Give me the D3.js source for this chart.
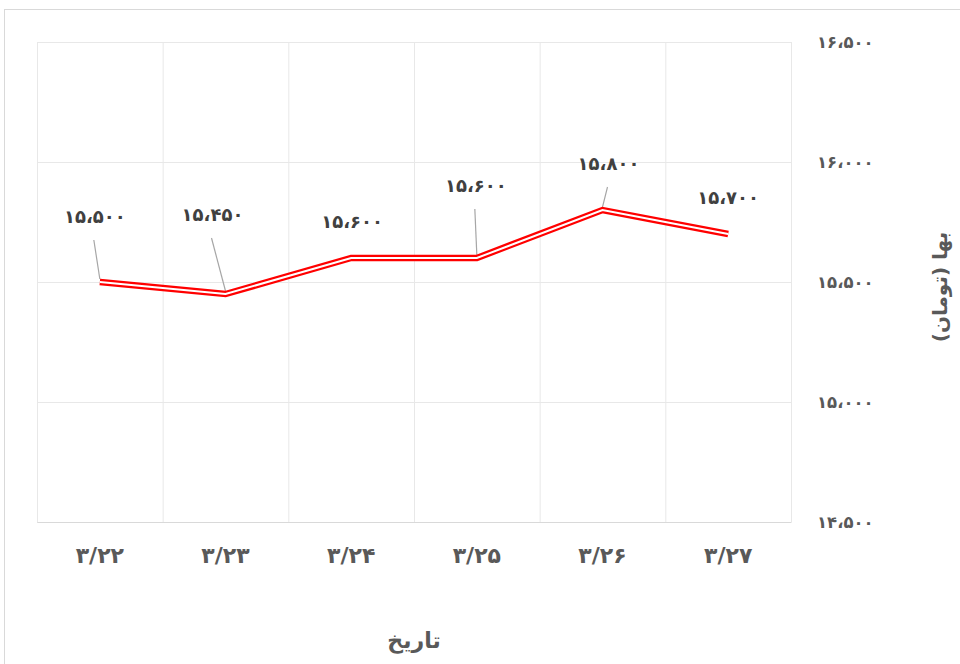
<!DOCTYPE html>
<html><head><meta charset="utf-8">
<script src="https://cdn.jsdelivr.net/npm/d3@7"></script>
<style>html,body{margin:0;padding:0;background:#fff;}svg{display:block;}</style>
</head><body>
<svg id="c" width="960" height="664"></svg>
<script>
const categories = ["۳/۲۲","۳/۲۳","۳/۲۴","۳/۲۵","۳/۲۶","۳/۲۷"];
const prices = [15500, 15450, 15600, 15600, 15800, 15700];
const yTicks = [14500, 15000, 15500, 16000, 16500];
const xTitle = "تاریخ";
const yTitle = "بها (تومان)";
// label placement offsets (layout, relative to point)
const labelOffsets = [[-5,-65],[-13,-79],[1,-36],[-1,-72],[6,-46],[0,-36]];

const faDigits = "۰۱۲۳۴۵۶۷۸۹";
function fa(n){
  const s = d3.format(",")(n).replace(/,/g,"،");
  return s.replace(/[0-9]/g, d => faDigits[+d]);
}

const svg = d3.select("#c");
const font = "'DejaVu Sans', sans-serif";
const M = {left:37, right:791, top:42, bottom:522};

// outer border
svg.append("rect").attr("x",4.5).attr("y",9.5).attr("width",970).attr("height",670)
  .attr("fill","none").attr("stroke","#d9d9d9").attr("stroke-width",1);

const x = d3.scaleBand().domain(categories).range([M.left, M.right]);
const y = d3.scaleLinear().domain([14500,16500]).range([M.bottom, M.top]);

// horizontal gridlines
const gY = svg.append("g").attr("transform",`translate(${M.right},0)`)
  .call(d3.axisRight(y).tickValues(yTicks).tickSize(-(M.right-M.left)).tickFormat(fa).tickPadding(26));
gY.select(".domain").remove();
gY.selectAll(".tick line").attr("stroke","#e8e8e8").attr("stroke-width",1);
gY.selectAll(".tick text").attr("fill","#595959").attr("font-family",font)
  .attr("font-size",16.5).attr("font-weight","bold").attr("direction","ltr").attr("text-anchor","start");

// vertical gridlines (band boundaries)
const bounds = categories.map(c => x(c)).concat([M.right]);
svg.append("g").selectAll("line").data(bounds).join("line")
  .attr("x1",d=>d+0.5).attr("x2",d=>d+0.5).attr("y1",M.top).attr("y2",M.bottom)
  .attr("stroke","#e8e8e8").attr("stroke-width",1);

// x axis
const gX = svg.append("g").attr("transform",`translate(0,${M.bottom})`)
  .call(d3.axisBottom(x).tickSize(0).tickPadding(25));
gX.select(".domain").attr("stroke","#d9d9d9");
gX.selectAll(".tick text").attr("fill","#595959").attr("font-family",font)
  .attr("font-size",22).attr("font-weight","bold").attr("direction","ltr");

const cx = c => x(c) + x.bandwidth()/2;
const pts = categories.map((c,i)=>[cx(c), y(prices[i])]);

// leader lines
const lab = pts.map((p,i)=>[p[0]+labelOffsets[i][0], p[1]+labelOffsets[i][1]]);
svg.append("g").selectAll("line").data(pts.map((p,i)=>({p, l:lab[i]})).filter(d => d.p[1]-d.l[1] > 40))
  .join("line")
  .attr("x1",d=>d.l[0]-1).attr("y1",d=>d.l[1]+23)
  .attr("x2",d=>d.p[0]).attr("y2",d=>d.p[1]-3)
  .attr("stroke","#a6a6a6").attr("stroke-width",1.2);

// double line
const line = d3.line().x(d=>d[0]).y(d=>d[1]);
svg.append("path").datum(pts).attr("d",line).attr("fill","none")
  .attr("stroke","#ff0000").attr("stroke-width",6.5).attr("stroke-linejoin","miter");
svg.append("path").datum(pts).attr("d",line).attr("fill","none")
  .attr("stroke","#ffffff").attr("stroke-width",2).attr("stroke-linejoin","miter");

// data labels
svg.append("g").selectAll("text").data(prices).join("text")
  .attr("x",(d,i)=>lab[i][0]).attr("y",(d,i)=>lab[i][1]).attr("dy","0.35em")
  .attr("text-anchor","middle").attr("direction","ltr")
  .attr("font-family",font).attr("font-size",18).attr("font-weight","bold")
  .attr("fill","#404040").text(fa);

// axis titles
svg.append("text").attr("x",(M.left+M.right)/2).attr("y",640).attr("dy","0.35em")
  .attr("text-anchor","middle").attr("font-family",font).attr("font-size",22).attr("font-weight","bold")
  .attr("fill","#595959").text(xTitle);
svg.append("text").attr("transform","translate(940,287) rotate(-90)").attr("dy","0.35em")
  .attr("text-anchor","middle").attr("font-family",font).attr("font-size",20).attr("font-weight","bold")
  .attr("fill","#595959").text(yTitle);
</script>
</body></html>
